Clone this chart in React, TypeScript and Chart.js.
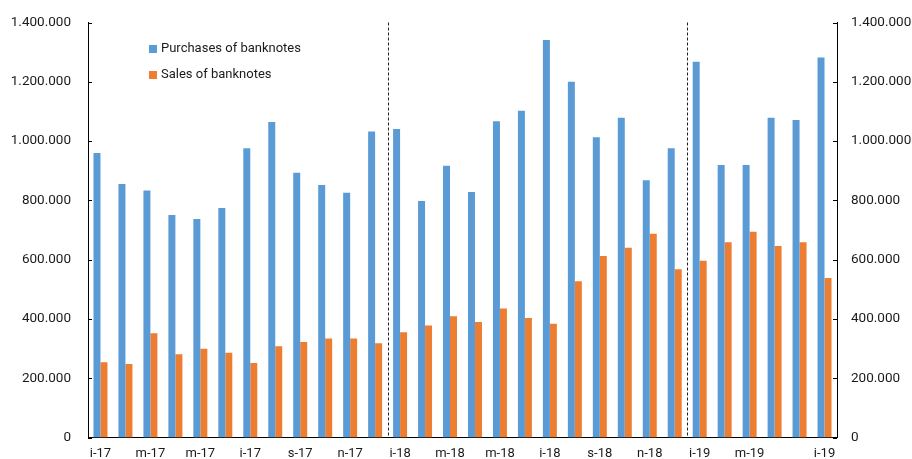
import React, { useEffect, useRef } from "react";
import { Chart, registerables } from "chart.js";

Chart.register(...registerables);

// Monthly categories, Jan 2017 – Jun 2019 (Romanian month initials)
const categories = [
  "i-17", "f-17", "m-17", "a-17", "m-17", "i-17", "i-17", "a-17", "s-17", "o-17", "n-17", "d-17",
  "i-18", "f-18", "m-18", "a-18", "m-18", "i-18", "i-18", "a-18", "s-18", "o-18", "n-18", "d-18",
  "i-19", "f-19", "m-19", "a-19", "m-19", "i-19",
];

// Labels printed on the category axis
const xTickLabels = [
  "i-17", "", "m-17", "", "m-17", "", "i-17", "", "s-17", "", "n-17", "",
  "i-18", "", "m-18", "", "m-18", "", "i-18", "", "s-18", "", "n-18", "",
  "i-19", "", "m-19", "", "", "i-19",
];

const purchases = [
  960000, 855000, 833000, 751000, 737000, 774000, 976000, 1064000, 893000, 852000, 826000, 1032000,
  1041000, 798000, 917000, 828000, 1067000, 1102000, 1341000, 1200000, 1013000, 1079000, 868000, 976000,
  1268000, 919000, 919000, 1079000, 1071000, 1282000,
];

const sales = [
  254000, 248000, 352000, 281000, 299000, 286000, 251000, 308000, 322000, 334000, 334000, 318000,
  355000, 378000, 409000, 390000, 435000, 403000, 384000, 527000, 612000, 640000, 687000, 568000,
  596000, 659000, 694000, 646000, 659000, 538000,
];

const seriesNames = ["Purchases of banknotes", "Sales of banknotes"];
const seriesColors = ["#5B9BD5", "#ED7D31"];

// Year boundaries (between Dec and Jan), as category indices
const yearBreaks = [11.5, 23.5];

const FONT = "Roboto";
const TEXT = "#1a1a1a";

const fmt = (v: number) => Number(v).toLocaleString("de-DE");

const overlayPlugin = {
  id: "overlay",
  afterDraw(chart: any) {
    const { ctx, chartArea, scales } = chart;
    const x = scales.x;
    const yl = scales.y;
    ctx.save();

    // inward tick marks on both value axes
    ctx.strokeStyle = "#000";
    ctx.lineWidth = 1;
    yl.ticks.forEach((t: any) => {
      const py = Math.round(yl.getPixelForValue(t.value)) + 0.5;
      ctx.beginPath();
      ctx.moveTo(chartArea.left, py);
      ctx.lineTo(chartArea.left + 4, py);
      ctx.moveTo(chartArea.right, py);
      ctx.lineTo(chartArea.right - 4, py);
      ctx.stroke();
    });

    // dashed year separators
    ctx.setLineDash([3, 2]);
    ctx.strokeStyle = "#222";
    yearBreaks.forEach((b) => {
      const px = Math.round((x.getPixelForValue(Math.floor(b)) + x.getPixelForValue(Math.ceil(b))) / 2) + 0.5;
      ctx.beginPath();
      ctx.moveTo(px, chartArea.top);
      ctx.lineTo(px, chartArea.bottom);
      ctx.stroke();
    });
    ctx.setLineDash([]);

    // legend inside the plot
    ctx.font = `13px ${FONT}`;
    ctx.textBaseline = "middle";
    ctx.textAlign = "left";
    const lx = 149;
    const rows = [49, 75];
    seriesNames.forEach((name, i) => {
      ctx.fillStyle = seriesColors[i];
      ctx.fillRect(lx, rows[i] - 4, 8, 8);
      ctx.fillStyle = TEXT;
      ctx.fillText(name, lx + 12, rows[i]);
    });

    ctx.restore();
  },
};

export default function App() {
  const canvasRef = useRef<HTMLCanvasElement | null>(null);

  useEffect(() => {
    document.body.style.margin = "0";
    const canvas = canvasRef.current;
    if (!canvas) return;

    const yTicks = {
      color: TEXT,
      font: { family: FONT, size: 13.5 },
      stepSize: 200000,
      callback: (v: any) => fmt(v),
    };

    // fixed axis width; the label padding must not push the plot area in vertically
    const fixWidth = (w: number) => (s: any) => {
      s.width = w;
      s.paddingTop = 0;
      s.paddingBottom = 0;
    };

    const chart = new Chart(canvas, {
      type: "bar",
      data: {
        labels: categories,
        datasets: [
          {
            label: seriesNames[0],
            data: purchases,
            backgroundColor: seriesColors[0],
            yAxisID: "y",
            categoryPercentage: 0.56,
            barPercentage: 1,
          },
          {
            label: seriesNames[1],
            data: sales,
            backgroundColor: seriesColors[1],
            yAxisID: "y",
            categoryPercentage: 0.56,
            barPercentage: 1,
          },
        ],
      },
      options: {
        responsive: false,
        animation: false,
        layout: { padding: { top: 22.5, bottom: 0, left: 0, right: 0 } },
        plugins: {
          legend: { display: false },
          tooltip: { enabled: false },
        },
        scales: {
          x: {
            grid: { display: false, drawTicks: false },
            border: { display: true, color: "#000", width: 1 },
            ticks: {
              color: TEXT,
              font: { family: FONT, size: 13 },
              autoSkip: false,
              maxRotation: 0,
              padding: 8,
              callback: (_v: any, i: number) => xTickLabels[i],
            },
            afterFit: (s: any) => {
              s.height = 21.5;
              s.paddingLeft = 0;
              s.paddingRight = 0;
            },
          },
          y: {
            position: "left",
            min: 0,
            max: 1400000,
            grid: { display: false, drawTicks: false },
            border: { display: true, color: "#000", width: 1 },
            ticks: { ...yTicks, padding: 17 },
            afterFit: fixWidth(88),
          },
          y2: {
            position: "right",
            min: 0,
            max: 1400000,
            grid: { display: false, drawTicks: false },
            border: { display: true, color: "#000", width: 1 },
            ticks: { ...yTicks, padding: 14 },
            afterFit: fixWidth(75),
          },
        },
      },
      plugins: [overlayPlugin],
    });

    return () => chart.destroy();
  }, []);

  return (
    <div style={{ position: "absolute", left: 0, top: 0, width: 912, height: 459, background: "#fff" }}>
      <canvas ref={canvasRef} width={912} height={459} />
    </div>
  );
}
